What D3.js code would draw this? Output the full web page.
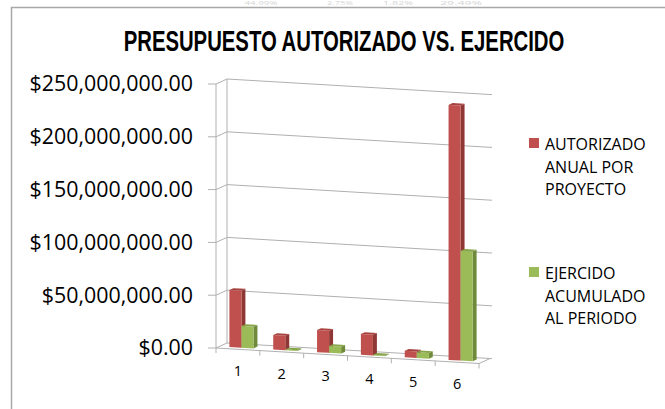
<!DOCTYPE html>
<html lang="es">
<head>
  <meta charset="UTF-8">
  <title>Presupuesto autorizado vs. ejercido</title>
  <script src="https://d3js.org/d3.v7.min.js"></script>
  <style>
    body { margin: 0; background: #fff; }
    svg { display: block; }
  </style>
</head>
<body>
  <svg id="chart"></svg>
  <script>
    const categories = ["1", "2", "3", "4", "5", "6"];
    const autorizado = [54000000, 13800000, 21000000, 19600000, 6200000, 241500000];
    const ejercido = [20500000, 800000, 6500000, 600000, 5500000, 104000000];
    const yTicks = [0, 50000000, 100000000, 150000000, 200000000, 250000000];
    const seriesNames = ["AUTORIZADO ANUAL POR PROYECTO", "EJERCIDO ACUMULADO AL PERIODO"];
    const topTexts = ["44.99%", "2.75%", "1.82%", "29.49%"];

    const W = 665, H = 409;
    const svg = d3.select('#chart').attr('width', W).attr('height', H);

    // oblique projection of the 3d box
    const x0 = 216;          // front-left corner of the floor
    const plotW = 263;
    const slope = 0.059;     // perspective tilt of the front plane
    const depth = {dx: 11, dy: -5};

    const xScale = d3.scaleBand().domain(categories).range([0, plotW]);
    const xSub = d3.scaleBand().domain(["a", "e"]).range([0, xScale.bandwidth()]).paddingOuter(0.82);
    const yScale = d3.scaleLinear().domain([0, 250000000]).range([348, 84]);

    const P = (x, v, z) => [x0 + x + z * depth.dx, yScale(v) + slope * x + z * depth.dy];
    const poly = pts => 'M' + pts.map(p => p.join(',')).join('L') + 'Z';
    const line = pts => 'M' + pts.map(p => p.join(',')).join('L');

    // faint spreadsheet text above the chart (cut off in the source)
    svg.append('g').selectAll('text').data(topTexts).enter().append('text')
      .attr('x', (d, i) => [261, 340, 398, 461][i])
      .attr('y', 5)
      .attr('text-anchor', 'middle')
      .attr('font-family', 'Open Sans, sans-serif')
      .attr('font-size', 6)
      .attr('textLength', (d, i) => [33, 26, 30, 42][i])
      .attr('lengthAdjust', 'spacingAndGlyphs')
      .attr('fill', '#d4d4d4')
      .text(d => d);

    // chart frame
    svg.append('path')
      .attr('d', 'M11.5,409 L11.5,7.5 L665,7.5')
      .attr('fill', 'none')
      .attr('stroke', '#a8a8a8')
      .attr('stroke-width', 1.5);

    // title, squeezed horizontally to look like a narrow bold face
    const titleG = svg.append('g');
    const title = titleG.append('text')
      .attr('x', 0)
      .attr('y', 0)
      .attr('text-anchor', 'middle')
      .attr('font-family', '"Liberation Sans", Arial, sans-serif')
      .attr('font-weight', 'bold')
      .attr('font-size', 29)
      .attr('fill', '#000')
      .text('PRESUPUESTO AUTORIZADO VS. EJERCIDO');
    const titleLen = title.node().getComputedTextLength();
    titleG.attr('transform', `translate(344,51) scale(${441 / titleLen},1)`);

    const grid = svg.append('g')
      .attr('fill', 'none')
      .attr('stroke', '#b0b0b0')
      .attr('stroke-width', 1);

    // gridlines across left wall and back wall
    yTicks.forEach(v => {
      grid.append('path').attr('d', line([P(0, v, 0), P(0, v, 1), P(plotW + 2, v, 1)]));
      grid.append('path').attr('d', line([[x0 - 8, yScale(v)], P(0, v, 0)]));
    });
    // wall edges
    grid.append('path').attr('d', line([P(0, 0, 0), P(0, 250000000, 0)]));
    grid.append('path').attr('d', line([P(0, 0, 1), P(0, 250000000, 1)]));
    // floor front and right edge
    grid.append('path').attr('d', line([P(0, 0, 0), P(plotW, 0, 0), P(plotW, 0, 1)]));
    // category ticks
    d3.range(categories.length + 1).forEach(i => {
      const p = P(i * xScale.step(), 0, 0);
      grid.append('path').attr('d', line([p, [p[0], p[1] + 5]]));
    });

    // y axis labels
    svg.append('g').selectAll('text').data(yTicks).enter().append('text')
      .attr('x', 193)
      .attr('y', d => yScale(d))
      .attr('dy', '0.35em')
      .attr('text-anchor', 'end')
      .attr('font-family', 'Open Sans, sans-serif')
      .attr('font-size', 21.4)
      .attr('fill', '#000')
      .text(d => '$' + d3.format(',.2f')(d));

    // x axis labels
    svg.append('g').selectAll('text').data(categories).enter().append('text')
      .attr('x', d => P(xScale(d) + xScale.bandwidth() / 2, 0, 0)[0])
      .attr('y', d => P(xScale(d) + xScale.bandwidth() / 2, 0, 0)[1] + 27)
      .attr('text-anchor', 'middle')
      .attr('font-family', 'Open Sans, sans-serif')
      .attr('font-size', 14.5)
      .attr('fill', '#000')
      .text(d => d);

    // 3d columns
    const colors = {
      a: {front: '#c0504d', side: '#8e3734', top: '#a8423f'},
      e: {front: '#9bbb59', side: '#6e8a3a', top: '#87a54a'}
    };
    const zf = 0.32, zb = 0.68, barW = xSub.bandwidth();
    const bars = svg.append('g');
    categories.forEach((c, i) => {
      [['a', autorizado[i]], ['e', ejercido[i]]].forEach(([s, v]) => {
        const xa = xScale(c) + xSub(s), xb = xa + barW;
        const col = colors[s];
        bars.append('path').attr('fill', col.side)
          .attr('d', poly([P(xb, 0, zf), P(xb, 0, zb), P(xb, v, zb), P(xb, v, zf)]));
        bars.append('path').attr('fill', col.front)
          .attr('d', poly([P(xa, 0, zf), P(xb, 0, zf), P(xb, v, zf), P(xa, v, zf)]));
        bars.append('path').attr('fill', col.top)
          .attr('d', poly([P(xa, v, zf), P(xb, v, zf), P(xb, v, zb), P(xa, v, zb)]));
      });
    });

    // legend
    const legend = svg.append('g');
    const legendY = [138, 267];
    const legendCols = [colors.a.front, colors.e.front];
    seriesNames.forEach((name, i) => {
      legend.append('rect')
        .attr('x', 529).attr('y', legendY[i])
        .attr('width', 10).attr('height', 10)
        .attr('fill', legendCols[i]);
      const words = name.split(' ');
      const lines = i === 0 ? [words[0], words.slice(1, 3).join(' '), words[3]]
                            : [words[0], words[1], words.slice(2).join(' ')];
      legend.append('text')
        .attr('x', 545)
        .attr('y', legendY[i] + 12)
        .attr('font-family', 'Open Sans, sans-serif')
        .attr('font-size', 16)
        .attr('fill', '#000')
        .selectAll('tspan').data(lines).enter().append('tspan')
        .attr('x', 545)
        .attr('dy', (d, j) => j === 0 ? 0 : 22.5)
        .text(d => d);
    });
  </script>
</body>
</html>
